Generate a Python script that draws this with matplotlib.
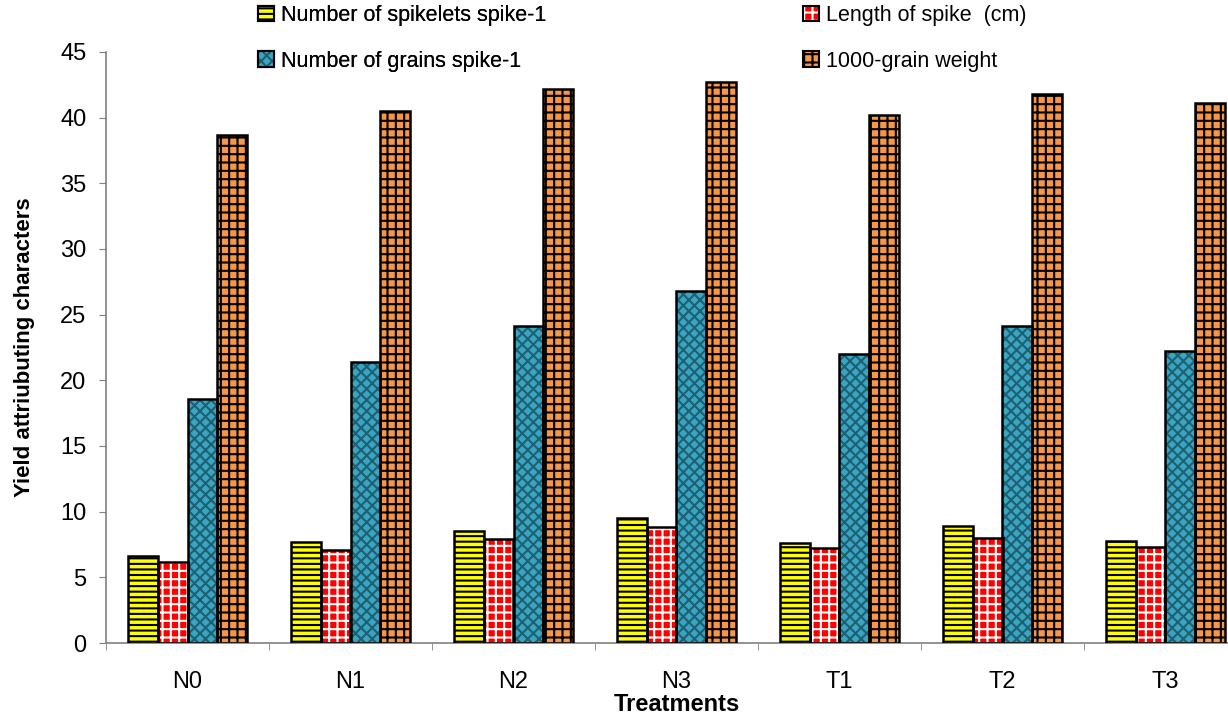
import matplotlib
matplotlib.use("Agg")
import matplotlib.pyplot as plt
from matplotlib.patches import Patch
import numpy as np

plt.rcParams['font.family'] = ['Liberation Sans', 'DejaVu Sans']
plt.rcParams['hatch.linewidth'] = 1.5

treatments = ["N0", "N1", "N2", "N3", "T1", "T2", "T3"]
spikelets = [6.6, 7.7, 8.5, 9.5, 7.6, 8.9, 7.8]
spike_len = [6.2, 7.1, 7.9, 8.8, 7.2, 8.0, 7.3]
grains = [18.6, 21.4, 24.1, 26.8, 22.0, 24.1, 22.2]
grain_wt = [38.7, 40.5, 42.2, 42.7, 40.2, 41.8, 41.1]

labels = ["Number of spikelets spike-1", "Length of spike  (cm)",
          "Number of grains spike-1", "1000-grain weight"]
series = [spikelets, spike_len, grains, grain_wt]
# fill colour, hatch, hatch colour
styles = [("#ffff00", "---", "black"),
          ("#ff0000", "++", "white"),
          ("#3aa5c2", "xxx", "#1e5f70"),
          ("#f79646", "++", "black")]

fig = plt.figure(figsize=(12.28, 7.19), dpi=100)
ax = fig.add_axes([106 / 1228, 1 - 643 / 719, (1247 - 106) / 1228, (643 - 52) / 719])

x = np.arange(len(treatments))
w = 0.184
handles = []
for i, (vals, (fc, hatch, hc)) in enumerate(zip(series, styles)):
    pos = x + (i - 1.5) * w
    ax.bar(pos, vals, w, color=fc, hatch=hatch, edgecolor=hc, linewidth=0, zorder=2)
    ax.bar(pos, vals, w, facecolor="none", edgecolor="black", linewidth=1.8, zorder=3)
    handles.append((Patch(facecolor=fc, hatch=hatch, edgecolor=hc, linewidth=0),
                    Patch(facecolor="none", edgecolor="black", linewidth=1.5)))

ax.set_xlim(-0.5, 6.5)
ax.set_ylim(0, 45)
ax.set_yticks(range(0, 46, 5))
ax.set_xticks(x)
ax.set_xticklabels(treatments)
ax.set_xticks(np.arange(-0.5, 7, 1), minor=True)
ax.tick_params(axis="x", which="major", length=0, pad=20, labelsize=17)
ax.tick_params(axis="x", which="minor", length=5, color="#808080", direction="out")
ax.tick_params(axis="y", length=5, color="#808080", labelsize=17, pad=9)
for s in ["top", "right"]:
    ax.spines[s].set_visible(False)
for s in ["left", "bottom"]:
    ax.spines[s].set_color("#808080")
    ax.spines[s].set_linewidth(1.2)

ax.set_ylabel("Yield attriubuting characters", fontsize=16, fontweight="bold", labelpad=18)
ax.set_xlabel("Treatments", fontsize=17, fontweight="bold", labelpad=0)

leg_kw = dict(frameon=False, handlelength=0.75, handleheight=0.75,
              handletextpad=0.3, labelspacing=1.15, borderpad=0, borderaxespad=0,
              prop={"size": 15.5})
leg1 = fig.legend([handles[0], handles[2]], [labels[0], labels[2]],
                  loc="upper left", bbox_to_anchor=(258 / 1228, 1 - 5 / 719), **leg_kw)
fig.add_artist(leg1)
fig.legend([handles[1], handles[3]], [labels[1], labels[3]],
           loc="upper left", bbox_to_anchor=(803 / 1228, 1 - 5 / 719), **leg_kw)

fig.savefig("out.png", dpi=100)
